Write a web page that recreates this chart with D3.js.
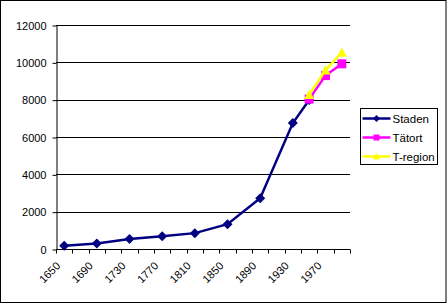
<!DOCTYPE html>
<html>
<head>
<meta charset="utf-8">
<script src="https://cdn.jsdelivr.net/npm/d3@7"></script>
<style>
  body { margin: 0; background: #fff; }
  svg { display: block; font-family: "Liberation Sans", Arial, sans-serif; }
</style>
</head>
<body>
<svg width="447" height="304"></svg>
<script>
// categories along the x axis (every 20 years)
const years = d3.range(1650, 2000, 20);
const tickLabels = [1650, 1690, 1730, 1770, 1810, 1850, 1890, 1930, 1970];
const yTicks = [0, 2000, 4000, 6000, 8000, 10000, 12000];

const stadenYears = [1650, 1690, 1730, 1770, 1810, 1850, 1890, 1930, 1950];
const stadenValues = [180, 290, 530, 680, 850, 1330, 2720, 6750, 7980];
const tatortYears = [1950, 1970, 1990];
const tatortValues = [8030, 9290, 9920];
const tregionYears = [1950, 1970, 1990];
const tregionValues = [8270, 9570, 10530];

const series = [
  { name: 'Staden', years: stadenYears, values: stadenValues, color: '#000080', marker: 'diamond' },
  { name: 'Tätort', years: tatortYears, values: tatortValues, color: '#ff00ff', marker: 'square' },
  { name: 'T-region', years: tregionYears, values: tregionValues, color: '#ffff00', marker: 'triangle' }
];

const margin = { top: 25, left: 56, right: 97, bottom: 54 };
const width = 294;
const height = 224;

const svg = d3.select('svg');

// outer border
svg.append('rect')
  .attr('x', 0.5).attr('y', 0.5)
  .attr('width', 445.5).attr('height', 302)
  .attr('fill', 'none').attr('stroke', '#000');

const chart = svg.append('g')
  .attr('transform', `translate(${margin.left}, ${margin.top})`);

const xScale = d3.scaleBand()
  .domain(years)
  .range([0, width]);

const yScale = d3.scaleLinear()
  .domain([0, 12000])
  .range([height, 0]);

const xPos = (yr) => xScale(yr) + xScale.bandwidth() / 2;

// grid lines
chart.append('g')
  .selectAll('line')
  .data(yTicks.filter(d => d > 0))
  .enter()
  .append('line')
  .attr('x1', 0).attr('x2', width)
  .attr('y1', d => Math.round(yScale(d)) + 0.5)
  .attr('y2', d => Math.round(yScale(d)) + 0.5)
  .attr('stroke', '#000');

// y axis
const yAxis = chart.append('g')
  .attr('transform', 'translate(0.5, 0.5)')
  .call(d3.axisLeft(yScale).tickValues(yTicks).tickFormat(d3.format('d'))
    .tickSize(4).tickSizeOuter(0).tickPadding(6));
yAxis.selectAll('text').style('font-size', '11px').attr('fill', '#000');
yAxis.select('.domain').attr('stroke', '#000');

// x axis: ticks at category boundaries
const xAxisG = chart.append('g')
  .attr('transform', `translate(0, ${height + 0.5})`);
xAxisG.append('line')
  .attr('x1', 0).attr('x2', width)
  .attr('stroke', '#000');
const boundaries = years.map(y => xScale(y)).concat([width]);
xAxisG.selectAll('.tick')
  .data(boundaries)
  .enter()
  .append('line')
  .attr('class', 'tick')
  .attr('x1', d => Math.round(d) + 0.5).attr('x2', d => Math.round(d) + 0.5)
  .attr('y1', 0).attr('y2', 4)
  .attr('stroke', '#000');
xAxisG.selectAll('.lbl')
  .data(tickLabels)
  .enter()
  .append('text')
  .attr('class', 'lbl')
  .attr('text-anchor', 'end')
  .attr('transform', d => `translate(${xScale(d) + 5}, 17) rotate(-45)`)
  .style('font-size', '11px')
  .text(d => d);

function markerPath(type, size) {
  const s = size / 2;
  if (type === 'diamond') return `M0,${-s}L${s},0L0,${s}L${-s},0Z`;
  if (type === 'square') return `M${-s},${-s}H${s}V${s}H${-s}Z`;
  return `M0,${-s}L${s},${s * 0.85}L${-s},${s * 0.85}Z`;
}

const line = d3.line()
  .x(d => xPos(d.year))
  .y(d => yScale(d.value));

series.forEach(s => {
  const pts = s.years.map((yr, i) => ({ year: yr, value: s.values[i] }));
  chart.append('path')
    .datum(pts)
    .attr('d', line)
    .attr('fill', 'none')
    .attr('stroke', s.color)
    .attr('stroke-width', 2.5);
  chart.append('g')
    .selectAll('path')
    .data(pts)
    .enter()
    .append('path')
    .attr('transform', d => `translate(${xPos(d.year)}, ${yScale(d.value)})`)
    .attr('d', markerPath(s.marker, s.marker === 'square' ? 9 : 10))
    .attr('fill', s.color);
});

// legend
const legend = svg.append('g')
  .attr('transform', 'translate(360.5, 108.5)');
legend.append('rect')
  .attr('width', 77).attr('height', 56)
  .attr('fill', '#fff').attr('stroke', '#000');
series.forEach((s, i) => {
  const g = legend.append('g')
    .attr('transform', `translate(0, ${10 + i * 19})`);
  g.append('line')
    .attr('x1', 2).attr('x2', 30)
    .attr('stroke', s.color).attr('stroke-width', 2.5);
  g.append('path')
    .attr('transform', 'translate(16, 0)')
    .attr('d', markerPath(s.marker, s.marker === 'square' ? 6 : 7))
    .attr('fill', s.color);
  g.append('text')
    .attr('x', 32).attr('y', 4)
    .style('font-size', '11.5px')
    .text(s.name);
});
</script>
</body>
</html>
